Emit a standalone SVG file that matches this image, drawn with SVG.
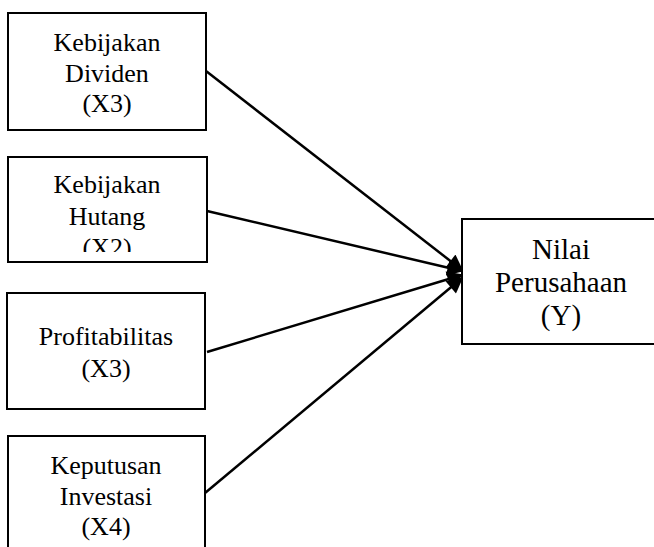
<svg xmlns="http://www.w3.org/2000/svg" width="654" height="547" viewBox="0 0 654 547">
<style>
.box{fill:#fff;stroke:#000;stroke-width:2}
.t{font-family:"Liberation Serif","Times New Roman",serif;font-size:26px;fill:#000;text-anchor:middle}
.ty{font-family:"Liberation Serif","Times New Roman",serif;font-size:29px;fill:#000;text-anchor:middle}
.c{stroke:#000;stroke-width:2.5;fill:none;marker-end:url(#ah)}
</style>
<defs>
<marker id="ah" viewBox="0 0 10 10" refX="9" refY="5" markerWidth="8" markerHeight="6.5" orient="auto" markerUnits="strokeWidth">
<path d="M0,0 L10,5 L0,10 Z" fill="#000"/>
</marker>
<clipPath id="clip2"><rect x="8" y="157" width="200" height="95"/></clipPath>
</defs>
<rect width="654" height="547" fill="#fff"/>
<g id="connectors">
<line class="c" x1="206" y1="71" x2="462" y2="270"/>
<line class="c" x1="207" y1="211" x2="462" y2="271"/>
<line class="c" x1="207" y1="352" x2="462" y2="275"/>
<line class="c" x1="205" y1="493" x2="462" y2="278"/>
</g>
<g id="x3-dividen">
<rect class="box" x="8" y="13" width="198" height="117"/>
<text class="t" x="107" y="51">Kebijakan</text>
<text class="t" x="107" y="82">Dividen</text>
<text class="t" x="107" y="112">(X3)</text>
</g>
<g id="x2-hutang">
<rect class="box" x="8" y="157" width="199" height="105"/>
<g clip-path="url(#clip2)">
<text class="t" x="107" y="193">Kebijakan</text>
<text class="t" x="107" y="225">Hutang</text>
<text class="t" x="107" y="256">(X2)</text>
</g>
</g>
<g id="x3-profit">
<rect class="box" x="7" y="293" width="198" height="116"/>
<text class="t" x="106" y="345">Profitabilitas</text>
<text class="t" x="106" y="377">(X3)</text>
</g>
<g id="x4-investasi">
<rect class="box" x="8" y="436" width="197" height="130"/>
<text class="t" x="106" y="474">Keputusan</text>
<text class="t" x="106" y="505">Investasi</text>
<text class="t" x="106" y="535">(X4)</text>
</g>
<g id="y-nilai">
<rect class="box" x="462" y="219" width="200" height="125"/>
<text class="ty" x="561" y="259">Nilai</text>
<text class="ty" x="561" y="292">Perusahaan</text>
<text class="ty" x="561" y="325">(Y)</text>
</g>
</svg>
